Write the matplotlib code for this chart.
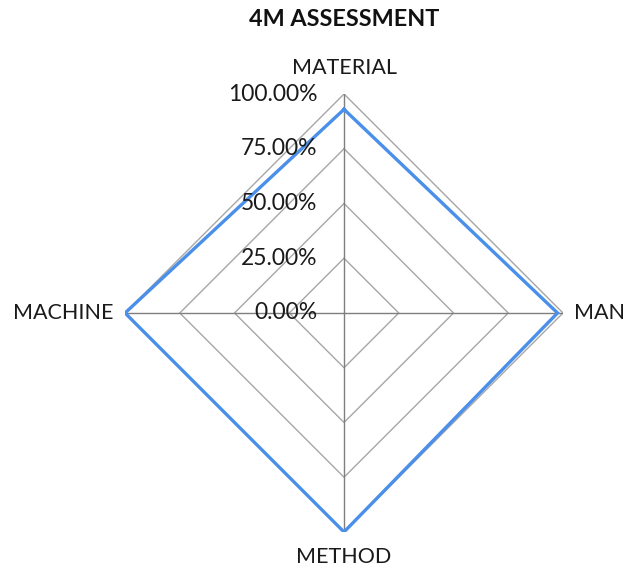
import numpy as np
import matplotlib
matplotlib.use("Agg")
import matplotlib.pyplot as plt

categories = ["MATERIAL", "MAN", "METHOD", "MACHINE"]
values = [0.93, 0.975, 1.0, 1.0]
ring_levels = [0.0, 0.25, 0.50, 0.75, 1.00]
ring_labels = ["0.00%", "25.00%", "50.00%", "75.00%", "100.00%"]
title = "4M ASSESSMENT"

plt.rcParams['font.family'] = ['Lato', 'DejaVu Sans']

fig = plt.figure(figsize=(6.28, 5.70), dpi=100)
ax = fig.add_axes([0.1991, 0.0667, 0.6974, 0.7684], projection='polar')
ax.set_theta_offset(np.pi / 2)
ax.set_theta_direction(-1)
ax.set_ylim(0, 1)
ax.grid(False)
ax.spines['polar'].set_visible(False)
ax.set_xticks([])
ax.set_yticks([])
ax.patch.set_alpha(0)

n = len(categories)
angles = np.linspace(0, 2 * np.pi, n, endpoint=False)
closed = np.concatenate([angles, angles[:1]])

# ring polygons
for lv in ring_levels[1:]:
    ax.plot(closed, [lv] * (n + 1), color='#A6A6A6', lw=1.0, zorder=1)
# spokes
for a in angles:
    ax.plot([a, a], [0, 1], color='#7F7F7F', lw=1.0, zorder=1)

# data
vals = list(values) + [values[0]]
ax.plot(closed, vals, color='#4A8FEA', lw=2.4, zorder=3, solid_joinstyle='miter')

# radial labels
for lv, lab in zip(ring_levels, ring_labels):
    ax.annotate(lab, xy=(0, lv), xytext=(-19, 0), textcoords='offset points',
                ha='right', va='center', fontsize=16.5, color='#1a1a1a')

# category labels
offsets = {"MATERIAL": (0, 19, 'center', 'center'),
           "MAN": (8, 0, 'left', 'center'),
           "METHOD": (0, -18, 'center', 'center'),
           "MACHINE": (-8, 0, 'right', 'center')}
for a, c in zip(angles, categories):
    dx, dy, ha, va = offsets[c]
    ax.annotate(c, xy=(a, 1.0), xytext=(dx, dy), textcoords='offset points',
                ha=ha, va=va, fontsize=15.5, color='#1a1a1a')

fig.text(0.5478, 1 - 19 / 570, title, ha='center', va='center',
         fontsize=16.8, fontweight='bold', color='#111111')

fig.savefig('out.png', dpi=100, facecolor='white')
